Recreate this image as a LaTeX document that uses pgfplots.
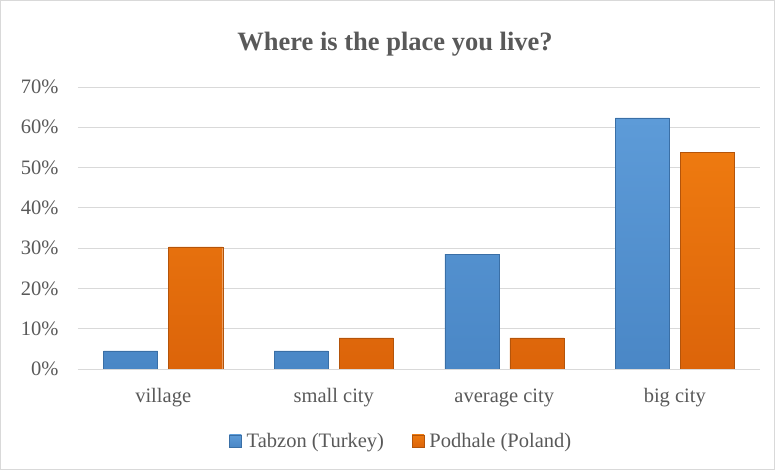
\documentclass[border=0pt]{standalone}
\usepackage{pgfplots}
\pgfplotsset{compat=1.18}
\usepackage{fontspec}
\setmainfont{Liberation Serif}
\definecolor{txt}{HTML}{595959}
\definecolor{grid}{HTML}{D9D9D9}
\definecolor{tblueT}{HTML}{5D9BD8}
\definecolor{tblueB}{HTML}{4A87C6}
\definecolor{tblueE}{HTML}{3A6FA6}
\definecolor{porangeT}{HTML}{EE7A10}
\definecolor{porangeB}{HTML}{DC640A}
\definecolor{porangeE}{HTML}{B4540A}
\begin{document}
\begin{tikzpicture}[x=1pt,y=1pt]
\draw[color=grid, line width=0.8pt] (0.5,0.5) rectangle (774.5,469.5);
\node[font=\fontsize{26.5}{30}\selectfont\bfseries, text=txt] at (395,426) {Where is the place you live?};
\begin{axis}[
  at={(78pt,101pt)}, anchor=south west,
  scale only axis, width=682pt, height=282pt,
  ybar, bar width=54pt,
  xmin=-0.5, xmax=3.5, ymin=0, ymax=0.7,
  xtick={0,1,2,3},
  xticklabels={village, small city, average city, big city},
  ytick={0,0.1,...,0.7},
  yticklabel={\pgfmathparse{\tick*100}\pgfmathprintnumber[fixed,precision=0]{\pgfmathresult}\%},
  /pgf/number format/assume math mode=true,
  ymajorgrids, grid style={color=grid, line width=0.8pt},
  axis line style={draw=none},
  axis x line*=bottom,
  x axis line style={draw=grid, line width=0.8pt},
  major tick length=0pt,
  tick label style={text=txt, font=\fontsize{20.5}{24}\selectfont},
  yticklabel style={xshift=-16pt},
  xticklabel style={yshift=-16pt},
  legend style={at={(0.474,-0.255)}, anchor=center, draw=none, fill=none,
     legend columns=2, font=\fontsize{20.5}{24}\selectfont, text=txt,
     /tikz/every odd column/.append style={column sep=3pt},
     /tikz/every even column/.append style={column sep=26pt}},
  legend image code/.code={\draw[#1] (0pt,-6pt) rectangle (12pt,6pt);},
]
\addplot[top color=tblueT, bottom color=tblueB, draw=tblueE, bar shift=-32.5pt] coordinates {(0,0.045) (1,0.045) (2,0.285) (3,0.623)};
\addplot[top color=porangeT, bottom color=porangeB, draw=porangeE, bar shift=32.5pt] coordinates {(0,0.303) (1,0.077) (2,0.077) (3,0.538)};
\legend{Tabzon (Turkey), Podhale (Poland)}
\end{axis}
\end{tikzpicture}
\end{document}
